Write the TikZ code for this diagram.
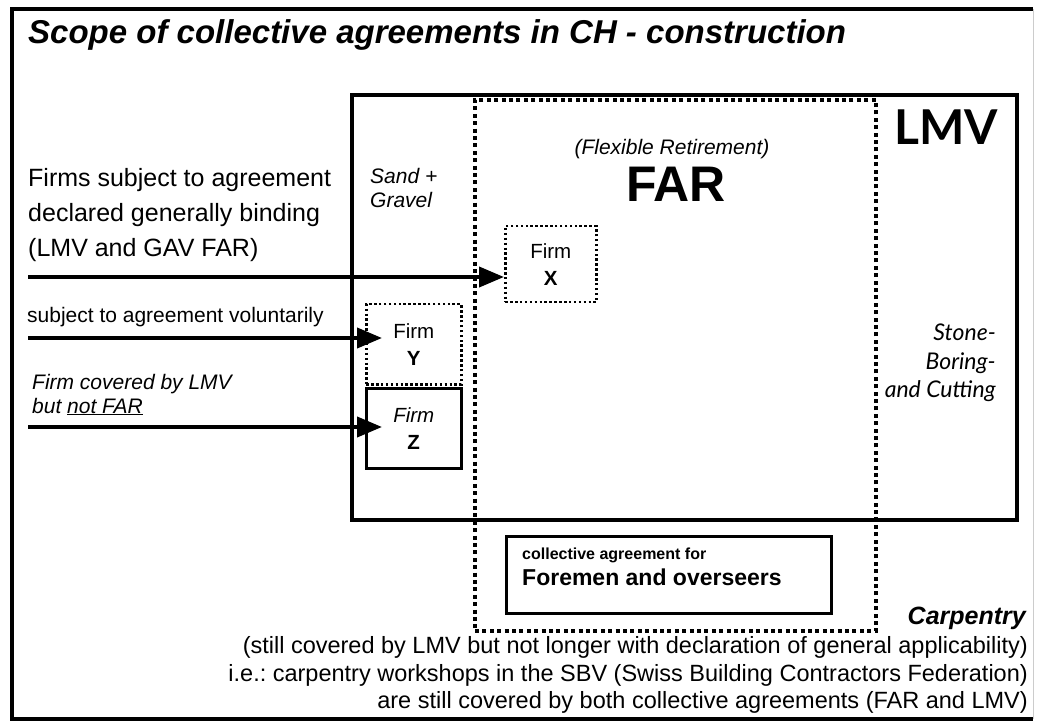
\documentclass[tikz,border=0pt]{standalone}
\usepackage{fontspec}
\setmainfont{Liberation Sans}
\newfontfamily\latofont{Lato}
\usetikzlibrary{arrows.meta,calc}
\newcommand\fsz[2]{\fontsize{#1}{#2}\selectfont}
\frenchspacing
\tikzset{
  txt/.style={inner sep=0pt, anchor=base west},
  txtr/.style={inner sep=0pt, anchor=base east},
  txtc/.style={inner sep=0pt, anchor=base},
  box/.style={draw, inner sep=0pt, anchor=north west},
  firmbox/.style={box, align=center, font=\fsz{20.5}{27}},
  arr/.style={line width=4pt, -{Triangle[length=25pt,width=20pt]}},
  bigdot/.style={line width=4pt, dash pattern=on 4pt off 3.4pt},
  smalldot/.style={line width=2.5pt, dash pattern=on 2.5pt off 2.4pt},
}
\begin{document}
\begin{tikzpicture}[x=1pt,y=-1pt]
\useasboundingbox (0,0) rectangle (1037,722);
\fill[white] (0,0) rectangle (1037,722);
% outer frame
\draw[line width=4pt] (1033,9) -- (12,9) -- (12,719) -- (1033,719);
\draw[gray!40, line width=1pt] (1033,9) -- (1033,719);
% title
\node[txt] (title) at (28,44) {\fsz{33}{40}\bfseries\itshape Scope of collective agreements in CH - construction};
% main boxes
\node[box, line width=4pt, minimum width=665pt, minimum height=425pt] (lmv) at (350,93) {};
\node[box, bigdot, minimum width=401pt, minimum height=531pt] (far) at (473,98) {};
\node[box, line width=3pt, minimum width=325pt, minimum height=77pt] (fore) at (505,535) {};
% firm boxes
\node[firmbox, smalldot, minimum width=91pt, minimum height=76pt] (fx) at (504,225) {Firm\\\textbf{X}};
\node[firmbox, smalldot, minimum width=95pt, minimum height=80pt] (fy) at (365,303) {Firm\\\textbf{Y}};
\node[firmbox, line width=2.5pt, minimum width=95pt, minimum height=80pt] (fz) at (365,387) {\textit{Firm}\\\textbf{Z}};
% left texts
\node[txt] (f1) at (28,187) {\fsz{25}{30}Firms subject to agreement};
\node[txt] (f2) at (28,222) {\fsz{25}{30}declared generally binding};
\node[txt] (f3) at (28,257) {\fsz{25}{30}(LMV and GAV FAR)};
\node[txt] (vol) at (27,323) {\fsz{21}{25}subject to agreement voluntarily};
\node[txt] (cov1) at (32,389) {\fsz{21}{25}\itshape Firm covered by LMV};
\node[txt] (cov2) at (32,413) {\fsz{21}{25}\itshape but \underline{not FAR}};
% arrows
\coordinate (sx) at (28,277);
\coordinate (sy) at (28,338);
\coordinate (sz) at (28,427);
\draw[arr] (sx) -- (sx -| fx.west);
\draw[arr] (sy) -- ($(sy -| fy.west)+(17,0)$);
\draw[arr] (sz) -- ($(sz -| fz.west)+(17,0)$);
% inner labels
\node[txt] (sand1) at (370,184) {\fsz{21}{25}\itshape Sand +};
\node[txt] (sand2) at (370,208) {\fsz{21}{25}\itshape Gravel};
\node[txtc] (flex) at (672,155) {\fsz{21}{25}\itshape (Flexible Retirement)};
\node[txtc] (fart) at (676,202) {\fsz{50}{56}\bfseries FAR};
\node[txtc] (lmvt) at (946,145) {\fsz{48}{55}\latofont\bfseries LMV};
\node[txtr] (st1) at (996,341) {\fsz{23}{27}\latofont\itshape Stone-};
\node[txtr] (st2) at (996,369) {\fsz{23}{27}\latofont\itshape Boring-};
\node[txtr] (st3) at (996,397) {\fsz{23}{27}\latofont\itshape and Cutting};
% foremen
\node[txt] (fore1) at (522,559) {\fsz{16}{19}\bfseries collective agreement for};
\node[txt] (fore2) at (522,585) {\fsz{23}{28}\bfseries Foremen and overseers};
% carpentry
\node[txtr] (carp) at (1026,624) {\fsz{25}{30}\bfseries\itshape Carpentry};
\node[txtr] (c1) at (1028,653) {\fsz{23.5}{28}(still covered by LMV but not longer with declaration of general applicability)};
\node[txtr] (c2) at (1028,681) {\fsz{23.5}{28}i.e.: carpentry workshops in the SBV (Swiss Building Contractors Federation)};
\node[txtr] (c3) at (1028,708) {\fsz{23.5}{28}are still covered by both collective agreements (FAR and LMV)};
\end{tikzpicture}
\end{document}
